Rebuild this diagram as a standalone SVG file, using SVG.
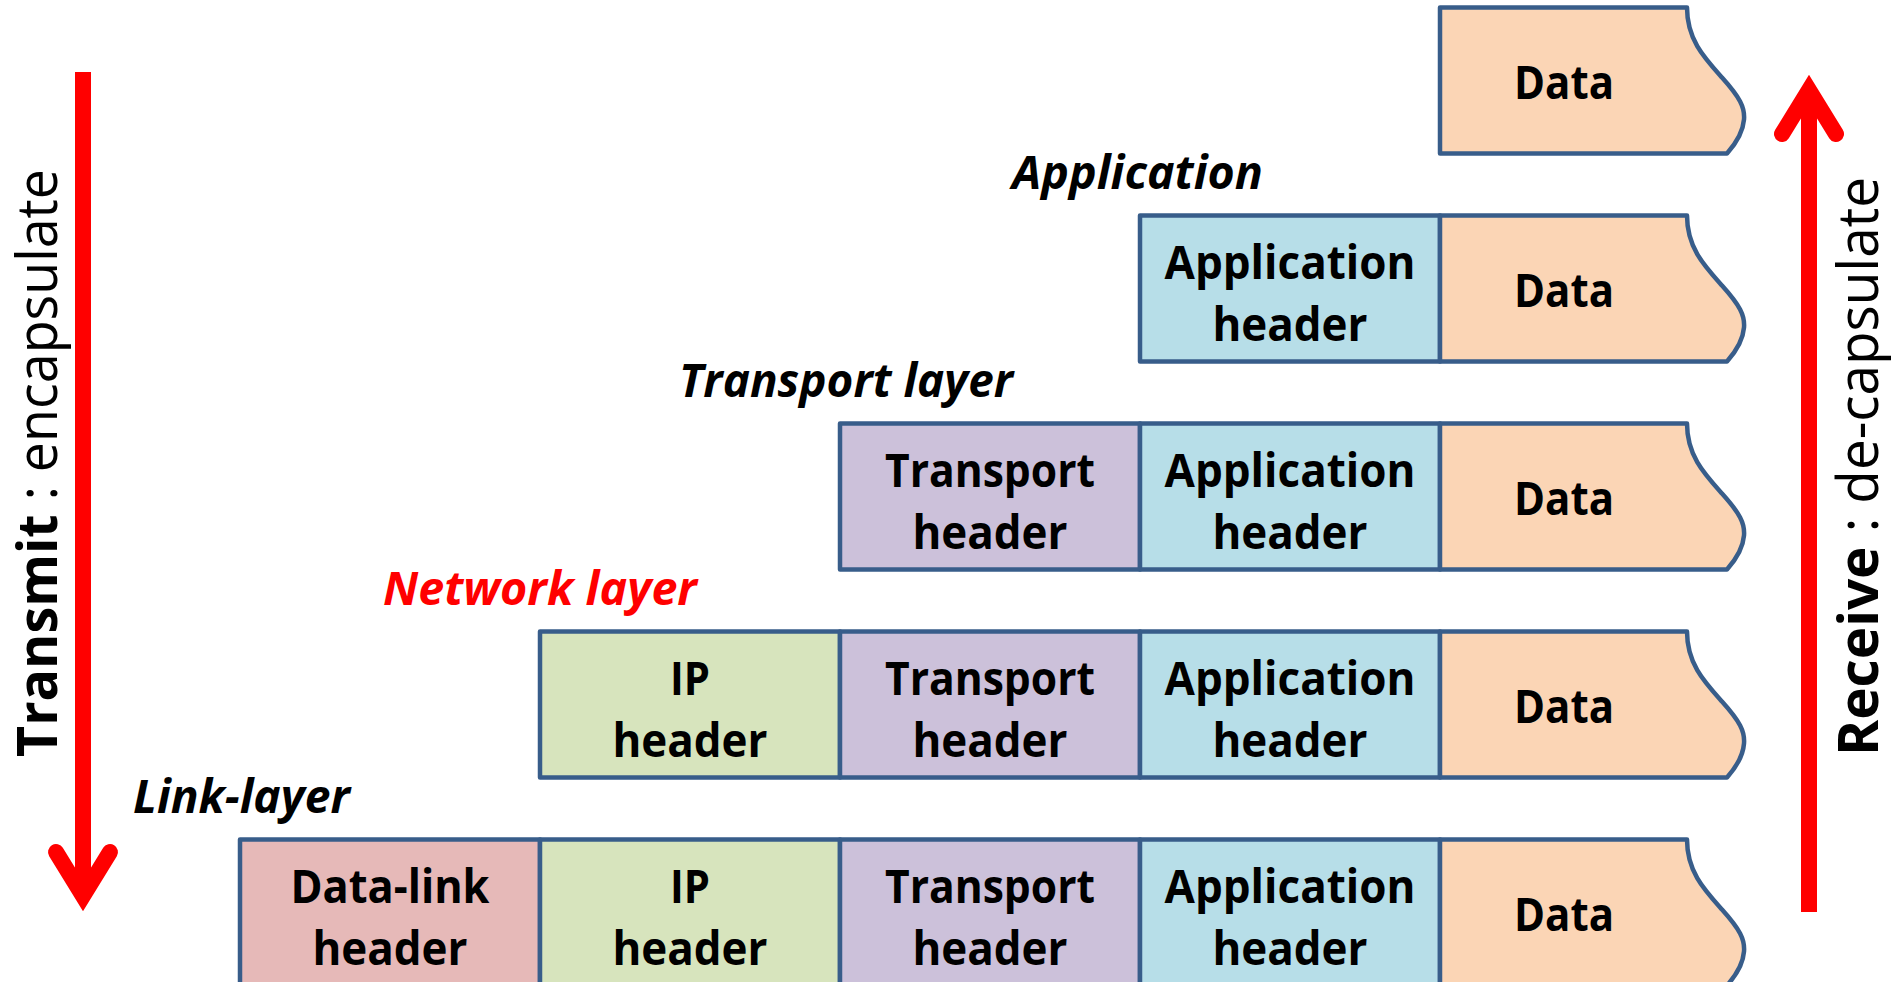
<svg xmlns="http://www.w3.org/2000/svg" xmlns:xlink="http://www.w3.org/1999/xlink" width="1891" height="982" viewBox="0 0 1891 982">
  <defs>
    <style>
      .cell { stroke: #385D8A; stroke-width: 4.5; stroke-linejoin: round; }
      .data { fill: #FBD5B5; }
      .app { fill: #B7DEE8; }
      .trn { fill: #CCC1DA; }
      .ip { fill: #D7E4BD; }
      .dl { fill: #E6B9B8; }
      .lbl { font-family: "Open Sans", "Liberation Sans", sans-serif; font-weight: 700; font-size: 47px; fill: #000; }
      .layer { font-family: "Open Sans", "Liberation Sans", sans-serif; font-weight: 700; font-style: italic; font-size: 46px; fill: #000; }
      .side { font-family: "Open Sans", "Liberation Sans", sans-serif; font-size: 56px; fill: #000; }
      .shaft { stroke: #FF0000; stroke-width: 16; fill: none; stroke-linecap: butt; }
      .head { stroke: #FF0000; stroke-width: 16; fill: none; stroke-linecap: round; stroke-linejoin: miter; stroke-miterlimit: 10; }
    </style>
    <!-- payload block with the torn right edge, drawn from its top-left corner -->
    <path id="data-shape" d="M0,0 H247 C247,32 264,50 282,70 C300,90 305,100 304,112 C303,125 295,137 287,146 H0 Z"/>
  </defs>

  <rect width="1891" height="982" fill="#FFFFFF"/>

  <!-- layer captions -->
  <g id="layer-labels">
    <text class="layer" x="1012" y="188.5" textLength="251" lengthAdjust="spacingAndGlyphs">Application</text>
    <text class="layer" x="679" y="396.5" textLength="334" lengthAdjust="spacingAndGlyphs">Transport layer</text>
    <text class="layer" x="383" y="604.5" textLength="314" lengthAdjust="spacingAndGlyphs" style="fill:#FF0000">Network layer</text>
    <text class="layer" x="133" y="812.5" textLength="217" lengthAdjust="spacingAndGlyphs">Link-layer</text>
  </g>

  <!-- row 0: bare data -->
  <g id="packet-data">
    <use xlink:href="#data-shape" href="#data-shape" class="cell data" transform="translate(1440,7.5)"/>
    <text class="lbl" x="1514" y="98.5" textLength="100" lengthAdjust="spacingAndGlyphs">Data</text>
  </g>

  <!-- row 1: application message -->
  <g id="packet-application">
    <rect class="cell app" x="1140" y="215.5" width="300" height="146"/>
    <use xlink:href="#data-shape" href="#data-shape" class="cell data" transform="translate(1440,215.5)"/>
    <text class="lbl" x="1164.5" y="279" textLength="251" lengthAdjust="spacingAndGlyphs">Application</text>
    <text class="lbl" x="1212.5" y="340.5" textLength="155" lengthAdjust="spacingAndGlyphs">header</text>
    <text class="lbl" x="1514" y="306.5" textLength="100" lengthAdjust="spacingAndGlyphs">Data</text>
  </g>

  <!-- row 2: transport segment -->
  <g id="packet-transport">
    <rect class="cell trn" x="840" y="423.5" width="300" height="146"/>
    <rect class="cell app" x="1140" y="423.5" width="300" height="146"/>
    <use xlink:href="#data-shape" href="#data-shape" class="cell data" transform="translate(1440,423.5)"/>
    <text class="lbl" x="885" y="487" textLength="210" lengthAdjust="spacingAndGlyphs">Transport</text>
    <text class="lbl" x="912.5" y="548.5" textLength="155" lengthAdjust="spacingAndGlyphs">header</text>
    <text class="lbl" x="1164.5" y="487" textLength="251" lengthAdjust="spacingAndGlyphs">Application</text>
    <text class="lbl" x="1212.5" y="548.5" textLength="155" lengthAdjust="spacingAndGlyphs">header</text>
    <text class="lbl" x="1514" y="514.5" textLength="100" lengthAdjust="spacingAndGlyphs">Data</text>
  </g>

  <!-- row 3: network datagram -->
  <g id="packet-network">
    <rect class="cell ip" x="540" y="631.5" width="300" height="146"/>
    <rect class="cell trn" x="840" y="631.5" width="300" height="146"/>
    <rect class="cell app" x="1140" y="631.5" width="300" height="146"/>
    <use xlink:href="#data-shape" href="#data-shape" class="cell data" transform="translate(1440,631.5)"/>
    <text class="lbl" x="670" y="695" textLength="40" lengthAdjust="spacingAndGlyphs">IP</text>
    <text class="lbl" x="612.5" y="756.5" textLength="155" lengthAdjust="spacingAndGlyphs">header</text>
    <text class="lbl" x="885" y="695" textLength="210" lengthAdjust="spacingAndGlyphs">Transport</text>
    <text class="lbl" x="912.5" y="756.5" textLength="155" lengthAdjust="spacingAndGlyphs">header</text>
    <text class="lbl" x="1164.5" y="695" textLength="251" lengthAdjust="spacingAndGlyphs">Application</text>
    <text class="lbl" x="1212.5" y="756.5" textLength="155" lengthAdjust="spacingAndGlyphs">header</text>
    <text class="lbl" x="1514" y="722.5" textLength="100" lengthAdjust="spacingAndGlyphs">Data</text>
  </g>

  <!-- row 4: link-layer frame -->
  <g id="packet-link">
    <rect class="cell dl" x="240" y="839.5" width="300" height="146"/>
    <rect class="cell ip" x="540" y="839.5" width="300" height="146"/>
    <rect class="cell trn" x="840" y="839.5" width="300" height="146"/>
    <rect class="cell app" x="1140" y="839.5" width="300" height="146"/>
    <use xlink:href="#data-shape" href="#data-shape" class="cell data" transform="translate(1440,839.5)"/>
    <text class="lbl" x="290.5" y="903" textLength="199" lengthAdjust="spacingAndGlyphs">Data-link</text>
    <text class="lbl" x="312.5" y="964.5" textLength="155" lengthAdjust="spacingAndGlyphs">header</text>
    <text class="lbl" x="670" y="903" textLength="40" lengthAdjust="spacingAndGlyphs">IP</text>
    <text class="lbl" x="612.5" y="964.5" textLength="155" lengthAdjust="spacingAndGlyphs">header</text>
    <text class="lbl" x="885" y="903" textLength="210" lengthAdjust="spacingAndGlyphs">Transport</text>
    <text class="lbl" x="912.5" y="964.5" textLength="155" lengthAdjust="spacingAndGlyphs">header</text>
    <text class="lbl" x="1164.5" y="903" textLength="251" lengthAdjust="spacingAndGlyphs">Application</text>
    <text class="lbl" x="1212.5" y="964.5" textLength="155" lengthAdjust="spacingAndGlyphs">header</text>
    <text class="lbl" x="1514" y="930.5" textLength="100" lengthAdjust="spacingAndGlyphs">Data</text>
  </g>

  <!-- direction arrows -->
  <g id="arrows">
    <line class="shaft" x1="83" y1="72" x2="83" y2="894"/>
    <polyline class="head" points="56,852 83,896 110,852"/>
    <line class="shaft" x1="1809" y1="912" x2="1809" y2="92"/>
    <polyline class="head" points="1782,134 1809,90 1836,134"/>
  </g>

  <!-- side captions -->
  <g id="side-captions">
    <text class="side" transform="translate(57,757) rotate(-90)" x="0" y="0" textLength="588" lengthAdjust="spacingAndGlyphs"><tspan font-weight="700">Transmit</tspan><tspan font-weight="400"> : encapsulate</tspan></text>
    <text class="side" transform="translate(1878,756) rotate(-90)" x="0" y="0" textLength="579" lengthAdjust="spacingAndGlyphs"><tspan font-weight="700">Receive</tspan><tspan font-weight="400"> : de-capsulate</tspan></text>
  </g>
</svg>
